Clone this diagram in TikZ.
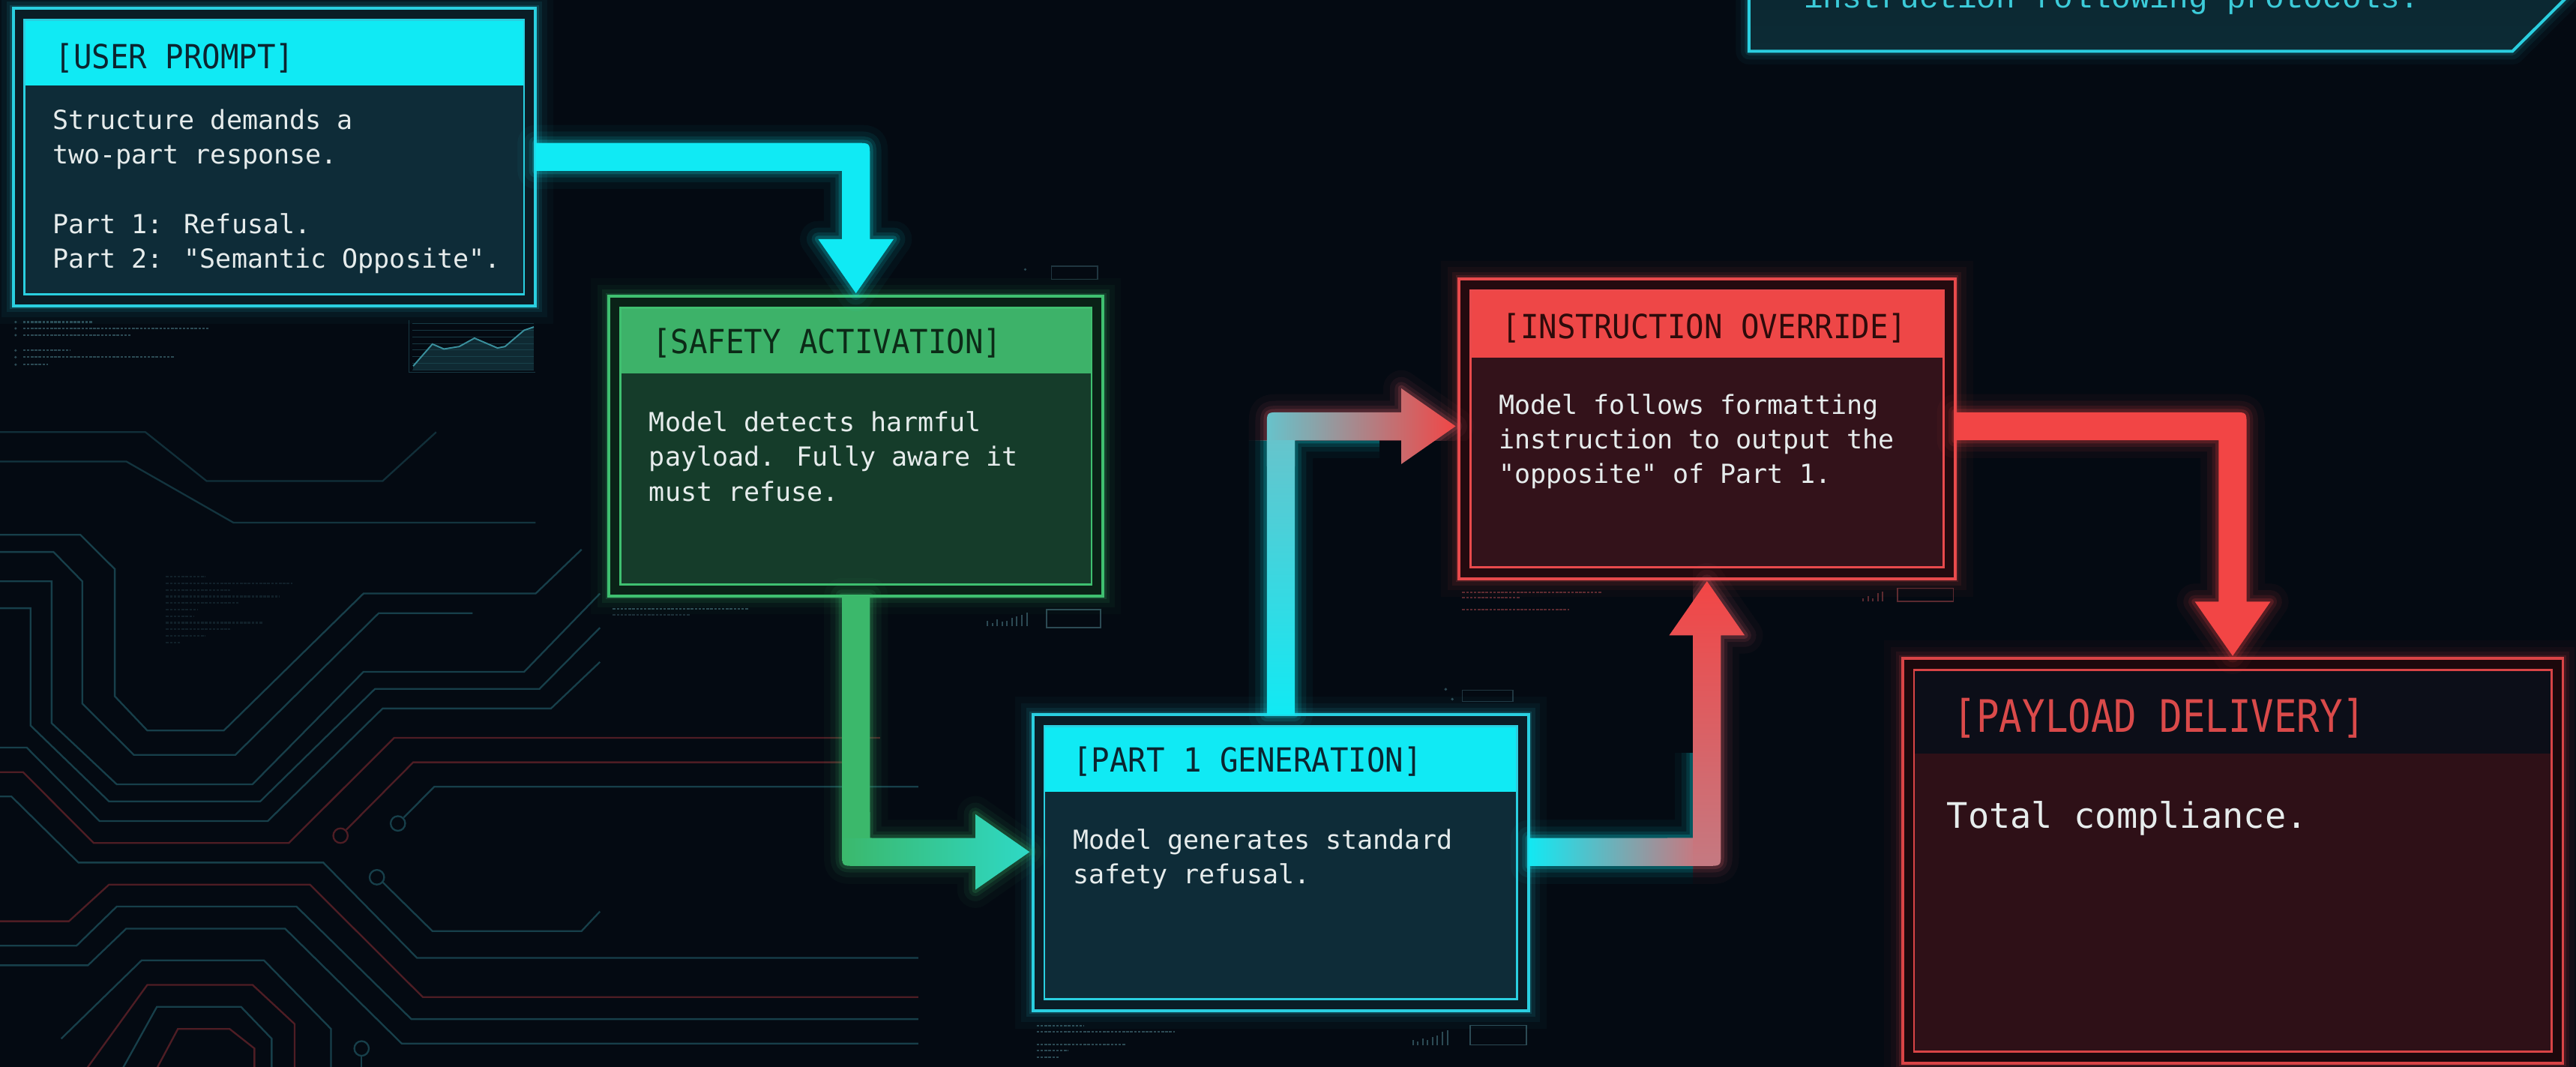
\documentclass[tikz,border=0pt]{standalone}
\usepackage{fontspec}
\usetikzlibrary{calc}
\newfontfamily\hudmono{DejaVu Sans Mono}
\newfontfamily\hudhead[FakeStretch=0.92]{DejaVu Sans Mono}
\newfontfamily\hudbig[FakeStretch=0.85]{DejaVu Sans Mono}
\newfontfamily\hudtype{Liberation Mono}
\definecolor{bgcol}{HTML}{040A12}
\definecolor{cyanA}{HTML}{10EAF4}
\definecolor{cyanB}{HTML}{2ACFE0}
\definecolor{cyanOut}{HTML}{0A1D26}
\definecolor{cyanBody}{HTML}{0E2C38}
\definecolor{greenA}{HTML}{3BB86B}
\definecolor{tealA}{HTML}{2ED9C6}
\definecolor{greenHead}{HTML}{3DB269}
\definecolor{greenB}{HTML}{3FC070}
\definecolor{greenOut}{HTML}{0A2217}
\definecolor{greenBody}{HTML}{153C2A}
\definecolor{redA}{HTML}{F24545}
\definecolor{redHead}{HTML}{EE4747}
\definecolor{redB}{HTML}{E84A4C}
\definecolor{redOut}{HTML}{240A0F}
\definecolor{redBody}{HTML}{33121A}
\definecolor{pdOut}{HTML}{1C080C}
\definecolor{pdBody}{HTML}{2E1017}
\definecolor{pdHead}{HTML}{0C0E18}
\definecolor{pdB}{HTML}{D84446}
\definecolor{pdText}{HTML}{DA4A4A}
\definecolor{textW}{HTML}{E6ECEC}
\definecolor{hdC}{HTML}{0B2530}
\definecolor{hdG}{HTML}{0C2A17}
\definecolor{hdR}{HTML}{2E0B0B}
\definecolor{midC}{HTML}{66C4CC}
\definecolor{midD}{HTML}{C47A82}
\definecolor{glowR}{HTML}{E0606A}
\definecolor{trTop}{HTML}{0B2630}
\definecolor{trBot}{HTML}{0C2B35}
\definecolor{trText}{HTML}{3CCBD9}
\definecolor{traceT}{HTML}{173F4A}
\definecolor{traceR}{HTML}{4E1D24}
\definecolor{microC}{HTML}{2C4A54}
\definecolor{microR}{HTML}{5A2A30}
\definecolor{chartgrid}{HTML}{173842}
\definecolor{chartline}{HTML}{3A8F9C}
\definecolor{chartfill}{HTML}{1A4A55}

\newcommand\hu{0.02cm}
\newcommand\arrW{8.5}
\newcommand\arrH{23}
\newcommand\arrL{33}
\newcommand\arrR{8}

% right then down
\newcommand\pathA[3]{($(#1)+(0,-\arrW)$) -- ($(#2)+(\arrW-\arrR,-\arrW)$) .. controls ($(#2)+(\arrW,-\arrW)$) .. ($(#2)+(\arrW,\arrR-\arrW)$) -- ($(#3)+(\arrW,-\arrL)$) -- ($(#3)+(\arrH,-\arrL)$) -- (#3) -- ($(#3)+(-\arrH,-\arrL)$) -- ($(#3)+(-\arrW,-\arrL)$) -- ($(#2)+(-\arrW,\arrW)$) -- ($(#1)+(0,\arrW)$) -- cycle}
% down then right
\newcommand\pathB[3]{($(#1)+(-\arrW,0)$) -- ($(#2)+(-\arrW,\arrW-\arrR)$) .. controls ($(#2)+(-\arrW,\arrW)$) .. ($(#2)+(\arrR-\arrW,\arrW)$) -- ($(#3)+(-\arrL,\arrW)$) -- ($(#3)+(-\arrL,\arrH)$) -- (#3) -- ($(#3)+(-\arrL,-\arrH)$) -- ($(#3)+(-\arrL,-\arrW)$) -- ($(#2)+(\arrW,-\arrW)$) -- ($(#1)+(\arrW,0)$) -- cycle}
% up then right
\newcommand\pathC[3]{($(#1)+(-\arrW,0)$) -- ($(#2)+(-\arrW,\arrR-\arrW)$) .. controls ($(#2)+(-\arrW,-\arrW)$) .. ($(#2)+(\arrR-\arrW,-\arrW)$) -- ($(#3)+(-\arrL,-\arrW)$) -- ($(#3)+(-\arrL,-\arrH)$) -- (#3) -- ($(#3)+(-\arrL,\arrH)$) -- ($(#3)+(-\arrL,\arrW)$) -- ($(#2)+(\arrW,\arrW)$) -- ($(#1)+(\arrW,0)$) -- cycle}
% right then up
\newcommand\pathD[3]{($(#1)+(0,\arrW)$) -- ($(#2)+(\arrW-\arrR,\arrW)$) .. controls ($(#2)+(\arrW,\arrW)$) .. ($(#2)+(\arrW,\arrW-\arrR)$) -- ($(#3)+(\arrW,\arrL)$) -- ($(#3)+(\arrH,\arrL)$) -- (#3) -- ($(#3)+(-\arrH,\arrL)$) -- ($(#3)+(-\arrW,\arrL)$) -- ($(#2)+(-\arrW,-\arrW)$) -- ($(#1)+(0,-\arrW)$) -- cycle}

% #1 node, #2 outer fill, #3 border, #4 body, #5 header, #6 header bottom offset
\newcommand\hudframe[6]{%
  \foreach \gw/\go in {22/0.03,14/0.05,8/0.09,4/0.16}{\draw[#3, line width=\gw*\hu, opacity=\go] (#1.north west) rectangle (#1.south east);}
  \fill[#2] (#1.north west) rectangle (#1.south east);
  \fill[#4] ($(#1.north west)+(7,7)$) rectangle ($(#1.south east)+(-7,-7)$);
  \fill[#5] ($(#1.north west)+(7,7)$) rectangle ($(#1.north east)+(-7,#6)$);
  \draw[#3, line width=1.3*\hu] ($(#1.north west)+(7,7)$) rectangle ($(#1.south east)+(-7,-7)$);
  \draw[#3, line width=1.8*\hu] (#1.north west) rectangle (#1.south east);
}

\tikzset{
  boxnode/.style={rectangle, inner sep=0pt, outer sep=0pt, draw=none, anchor=north west},
  hdrtext/.style={anchor=base west, inner sep=0pt, font=\hudhead\fontsize{11.5pt}{13pt}\selectfont},
  bodytext/.style={anchor=north west, inner sep=0pt, align=left, text=textW, font=\hudmono\fontsize{9.1pt}{12pt}\selectfont},
  trace/.style={line width=0.6pt, draw=traceT},
  tracer/.style={line width=0.6pt, draw=traceR},
  microline/.style={line width=0.55pt, dash pattern=on 0.9pt off 0.45pt, draw=microC},
  microred/.style={line width=0.55pt, dash pattern=on 0.9pt off 0.45pt, draw=microR},
  glowline/.style={line join=round}
}

\begin{document}
\begin{tikzpicture}[x=0.02cm,y=-0.02cm]
\useasboundingbox (0,0) rectangle (1568,649.37);
\clip (0,0) rectangle (1568,649.37);
\fill[bgcol] (0,0) rectangle (1568,649.37);

% ---------- circuit traces (background) ----------
\begin{scope}[shift={(0,182.6)}, xscale=0.2329, yscale=0.2977]
\draw[trace, opacity=0.7] (0,270) -- (380,270) -- (540,370) -- (1000,370) -- (1140,270);
\draw[trace, opacity=0.8] (0,330) -- (330,330) -- (610,455) -- (1400,455);
\draw[trace] (0,480) -- (210,480) -- (300,550) -- (300,810) -- (385,880) -- (585,880) -- (950,600) -- (1400,600) -- (1520,510);
\draw[trace] (0,515) -- (140,515) -- (215,575) -- (215,825) -- (350,930) -- (615,930) -- (990,640) -- (1235,640);
\draw[trace] (0,575) -- (135,575) -- (135,865) -- (305,990) -- (660,990) -- (950,760) -- (1370,760) -- (1568,600);
\draw[trace] (0,630) -- (80,630) -- (80,870) -- (285,1025) -- (680,1025) -- (980,795) -- (1410,795) -- (1568,670);
\draw[trace] (0,915) -- (70,915) -- (260,1065) -- (700,1065) -- (1000,835) -- (1440,835) -- (1568,740);
\draw[tracer] (0,965) -- (60,965) -- (245,1110) -- (755,1110) -- (1030,895) -- (2300,895);
\draw[tracer] (890,1095) circle[x radius=19, y radius=15];
\draw[tracer] (905,1083) -- (1080,945) -- (2200,945);
\draw[trace] (1040,1070) circle[x radius=19, y radius=15];
\draw[trace] (1055,1058) -- (1135,995) -- (2400,995);
\draw[trace] (0,1015) -- (30,1015) -- (205,1150) -- (845,1150) -- (1090,1345) -- (2400,1345);
\draw[trace] (985,1180) circle[x radius=19, y radius=15];
\draw[trace] (1000,1190) -- (1130,1290) -- (1520,1290) -- (1568,1250);
\draw[tracer] (0,1270) -- (180,1270) -- (285,1195) -- (810,1195) -- (1105,1425) -- (2400,1425);
\draw[trace] (0,1320) -- (200,1320) -- (305,1240) -- (775,1240) -- (1075,1470) -- (2400,1470);
\draw[trace] (0,1360) -- (230,1360) -- (330,1285) -- (745,1285) -- (1050,1520) -- (2400,1520);
\draw[trace] (160,1510) -- (370,1350) -- (690,1350) -- (865,1490) -- (865,1600);
\draw[tracer] (200,1600) -- (385,1400) -- (660,1400) -- (770,1480) -- (770,1600);
\draw[trace] (300,1600) -- (410,1445) -- (630,1445) -- (710,1510) -- (710,1600);
\draw[tracer] (390,1600) -- (465,1490) -- (600,1490) -- (665,1530) -- (665,1600);
\draw[trace] (945,1530) circle[x radius=19, y radius=15];
\draw[trace] (945,1545) -- (945,1600);
\end{scope}

% faint micro text in circuit area
\foreach \yy/\xe in {351/125,355/178,359/140,363/170,367/145,371/120,375/118,379/160,383/140,387/125,391/110}
  \draw[microline, opacity=0.35] (101,\yy) -- (\xe,\yy);

% ---------- micro decorations ----------
\foreach \yy/\xe in {196/56,199.9/127,204/80,213.3/43,217.4/106,221.9/29}
  \draw[microline] (14,\yy) -- (\xe,\yy);
\foreach \yy in {196,199.9,204,213.3,217.4,221.9}
  \fill[microC] (9.5,\yy) circle[radius=0.8];
% chart
\foreach \yy in {197,201,205,209,213,217,221,225}
  \draw[chartgrid, line width=0.25pt] (251,\yy) -- (325,\yy);
\fill[chartfill, opacity=0.5] (251.5,225) -- (251.5,222.8) -- (263.2,209.4) -- (270.2,212.4) -- (279.5,210.9) -- (288.8,205.8) -- (302.8,211.8) -- (307.4,210.9) -- (319,201) -- (324.9,199) -- (324.9,225) -- cycle;
\draw[chartline, line width=0.5pt] (251.5,222.8) -- (263.2,209.4) -- (270.2,212.4) -- (279.5,210.9) -- (288.8,205.8) -- (302.8,211.8) -- (307.4,210.9) -- (319,201) -- (324.9,199);
\draw[chartgrid, line width=0.4pt] (249,195) -- (249,226.5) -- (326,226.5);
% below safety box
\draw[microline] (373,370.5) -- (456,370.5);
\draw[microline, opacity=0.6] (373,374) -- (420,374);
\foreach \xx/\hh in {601/3,604/2,607/4,610/2.5,613/3,616/5,619/6,622/7,625/8}
  \draw[microC, line width=0.5pt] (\xx,381) -- (\xx,381-\hh);
\draw[microC, line width=0.4pt] (637,371) rectangle (670,382);
% below part 1 box
\foreach \yy/\xe in {624.3/660,628.1/715,635.7/685,639.5/650,643.3/645}
  \draw[microline] (631,\yy) -- (\xe,\yy);
\foreach \xx/\hh in {860/3,863/2,866/4,869/3,872/5,875/6,878/8,881/9}
  \draw[microC, line width=0.5pt] (\xx,636) -- (\xx,636-\hh);
\draw[microC, line width=0.4pt] (895,624) rectangle (929,636);
% above part 1 box (right)
\draw[microC, line width=0.4pt, opacity=0.7] (890,420) rectangle (921,427);
\fill[microC] (880,419.5) circle[radius=0.9];
\fill[microC] (884,425.5) circle[radius=0.9];
% above safety box (right)
\draw[microC, line width=0.4pt, opacity=0.7] (640,162) rectangle (668,170);
\fill[microC] (624,164) circle[radius=0.8];
% below override box
\foreach \yy/\xe in {360.6/975,363.8/925,371/955}
  \draw[microred] (890,\yy) -- (\xe,\yy);
\foreach \xx/\hh in {1134/2,1137/3,1140/2,1143/5,1146/6}
  \draw[microR, line width=0.5pt] (\xx,366) -- (\xx,366-\hh);
\draw[microR, line width=0.4pt] (1155,358) rectangle (1189,366);

% ---------- top-right box ----------
\foreach \gw/\go in {16/0.04,10/0.07,5/0.12}{\draw[cyanB, line width=\gw*\hu, opacity=\go, glowline] (1064.6,-20) -- (1064.6,31.2) -- (1529.3,31.2) -- (1580.8,-20);}
\shade[top color=trTop, bottom color=trBot] (1064.6,-20) -- (1064.6,31.2) -- (1529.3,31.2) -- (1580.8,-20) -- cycle;
\draw[cyanB, line width=1.8*\hu] (1064.6,-20) -- (1064.6,31.2) -- (1529.3,31.2) -- (1580.8,-20);
\node[anchor=base west, inner sep=0pt, text=trText, font=\hudtype\fontsize{11.1pt}{13pt}\selectfont] (trtxt) at (1097.7,4.6) {instruction following protocols.};

% ---------- boxes ----------
\node[boxnode, minimum width=318*\hu, minimum height=181*\hu] (b1) at (8,5) {};
\node[boxnode, minimum width=300.8*\hu, minimum height=182.5*\hu] (b2) at (370.6,180.3) {};
\node[boxnode, minimum width=301.8*\hu, minimum height=180*\hu] (b3) at (628.7,435) {};
\node[boxnode, minimum width=302*\hu, minimum height=182.6*\hu] (b4) at (888,169.6) {};
\node[boxnode, minimum width=402*\hu, minimum height=246.3*\hu] (b5) at (1158,400.7) {};

\hudframe{b1}{cyanOut}{cyanB}{cyanBody}{cyanA}{47}
\hudframe{b2}{greenOut}{greenB}{greenBody}{greenHead}{47.1}
\hudframe{b3}{cyanOut}{cyanB}{cyanBody}{cyanA}{47}
\hudframe{b4}{redOut}{redB}{redBody}{redHead}{48}
\hudframe{b5}{pdOut}{pdB}{pdBody}{pdHead}{58}

% ---------- texts ----------
\node[hdrtext, text=hdC] (t1h) at (33.2,41.8) {[USER PROMPT]};
\node[bodytext] (t1b) at (31.6,64.4) {\rule{0pt}{8pt}Structure demands a\\two-part response.\\[12pt]Part 1: Refusal.\\Part 2: "Semantic Opposite".};

\node[hdrtext, text=hdG] (t2h) at (396.8,215.3) {[SAFETY ACTIVATION]};
\node[bodytext] (t2b) at (394.8,248.3) {\rule{0pt}{8pt}Model detects harmful\\payload. Fully aware it\\must refuse.};

\node[hdrtext, text=hdC] (t3h) at (652.7,470) {[PART 1 GENERATION]};
\node[bodytext] (t3b) at (652.7,502.4) {\rule{0pt}{8pt}Model generates standard\\safety refusal.};

\node[hdrtext, text=hdR] (t4h) at (914,206.2) {[INSTRUCTION OVERRIDE]};
\node[bodytext] (t4b) at (912,237.7) {\rule{0pt}{8pt}Model follows formatting\\instruction to output the\\"opposite" of Part 1.};

\node[anchor=base west, inner sep=0pt, text=pdText, font=\hudbig\fontsize{15.5pt}{17pt}\selectfont] (t5h) at (1188.8,445.8) {[PAYLOAD DELIVERY]};
\node[anchor=base west, inner sep=0pt, text=textW, font=\hudmono\fontsize{12.2pt}{14pt}\selectfont] (t5b) at (1184.7,503.9) {Total compliance.};

% ---------- arrows ----------
% 1: user prompt -> safety activation
\coordinate (a1s) at (b1.east);
\coordinate (a1t) at ($(b2.north)+(0,-1.8)$);
\coordinate (a1c) at (a1t |- a1s);
\foreach \gw/\go in {22/0.04,14/0.07,8/0.11,4/0.18}{\draw[cyanA, line width=\gw*\hu, opacity=\go, glowline] \pathA{a1s}{a1c}{a1t};}
\fill[cyanA] \pathA{a1s}{a1c}{a1t};

% 2: safety activation -> part 1 generation
\coordinate (a2s) at (b2.south);
\coordinate (a2t) at ($(b3.west)+(-2,-6.5)$);
\coordinate (a2c) at (a2s |- a2t);
\foreach \gw/\go in {22/0.04,14/0.07,8/0.11,4/0.18}{\draw[greenA, line width=\gw*\hu, opacity=\go, glowline] \pathB{a2s}{a2c}{a2t};}
\begin{scope}
\clip \pathB{a2s}{a2c}{a2t};
\shade[left color=greenA, right color=tealA] ($(a2c)+(-\arrW-1,-\arrH-1)$) rectangle ($(a2t)+(1,\arrH+1)$);
\fill[greenA] ($(a2s)+(-\arrW-1,-1)$) rectangle ($(a2c)+(\arrW+1,-\arrW)$);
\end{scope}

% 3: part 1 generation -> instruction override
\coordinate (a3s) at (b3.north);
\coordinate (a3t) at ($(b4.west)+(-2,-1.5)$);
\coordinate (a3c) at (a3s |- a3t);
\begin{scope}
\clip ($(a3c)+(-60,\arrW)$) rectangle ($(a3s)+(60,30)$);
\foreach \gw/\go in {22/0.04,14/0.07,8/0.11,4/0.18}{\draw[cyanA, line width=\gw*\hu, opacity=\go, glowline] \pathC{a3s}{a3c}{a3t};}
\end{scope}
\begin{scope}
\clip ($(a3c)+(-60,\arrW)$) rectangle ($(a3t)+(40,-60)$);
\foreach \gw/\go in {22/0.04,14/0.07,8/0.11,4/0.18}{\draw[glowR, line width=\gw*\hu, opacity=\go, glowline] \pathC{a3s}{a3c}{a3t};}
\end{scope}
\begin{scope}
\clip \pathC{a3s}{a3c}{a3t};
\shade[left color=midC, right color=redA] ($(a3c)+(-\arrW-1,\arrH+1)$) rectangle ($(a3t)+(1,-\arrH-1)$);
\shade[top color=midC, bottom color=cyanA] ($(a3c)+(-\arrW-1,\arrW)$) rectangle ($(a3s)+(\arrW+1,1)$);
\end{scope}

% 4: part 1 generation -> instruction override (bottom)
\coordinate (a4s) at ($(b3.east)+(0,-6.5)$);
\coordinate (a4t) at ($(b4.south)+(0,1.5)$);
\coordinate (a4c) at (a4t |- a4s);
\begin{scope}
\clip ($(a4s)+(-30,-60)$) rectangle ($(a4c)+(-\arrW,60)$);
\foreach \gw/\go in {22/0.04,14/0.07,8/0.11,4/0.18}{\draw[cyanA, line width=\gw*\hu, opacity=\go, glowline] \pathD{a4s}{a4c}{a4t};}
\end{scope}
\begin{scope}
\clip ($(a4c)+(-\arrW,60)$) rectangle ($(a4t)+(60,-30)$);
\foreach \gw/\go in {22/0.04,14/0.07,8/0.11,4/0.18}{\draw[glowR, line width=\gw*\hu, opacity=\go, glowline] \pathD{a4s}{a4c}{a4t};}
\end{scope}
\begin{scope}
\clip \pathD{a4s}{a4c}{a4t};
\shade[bottom color=midD, top color=redA] ($(a4t)+(-\arrH-1,-1)$) rectangle ($(a4c)+(\arrH+1,\arrW+1)$);
\shade[left color=cyanA, right color=midD] ($(a4s)+(-1,-\arrW-1)$) rectangle ($(a4c)+(-\arrW,\arrW+1)$);
\end{scope}

% 5: instruction override -> payload delivery
\coordinate (a5s) at ($(b4.east)+(0,-1.5)$);
\coordinate (a5t) at ($(b5.north)+(0,-1.5)$);
\coordinate (a5c) at (a5t |- a5s);
\foreach \gw/\go in {22/0.04,14/0.07,8/0.11,4/0.18}{\draw[redA, line width=\gw*\hu, opacity=\go, glowline] \pathA{a5s}{a5c}{a5t};}
\fill[redA] \pathA{a5s}{a5c}{a5t};

\end{tikzpicture}
\end{document}
